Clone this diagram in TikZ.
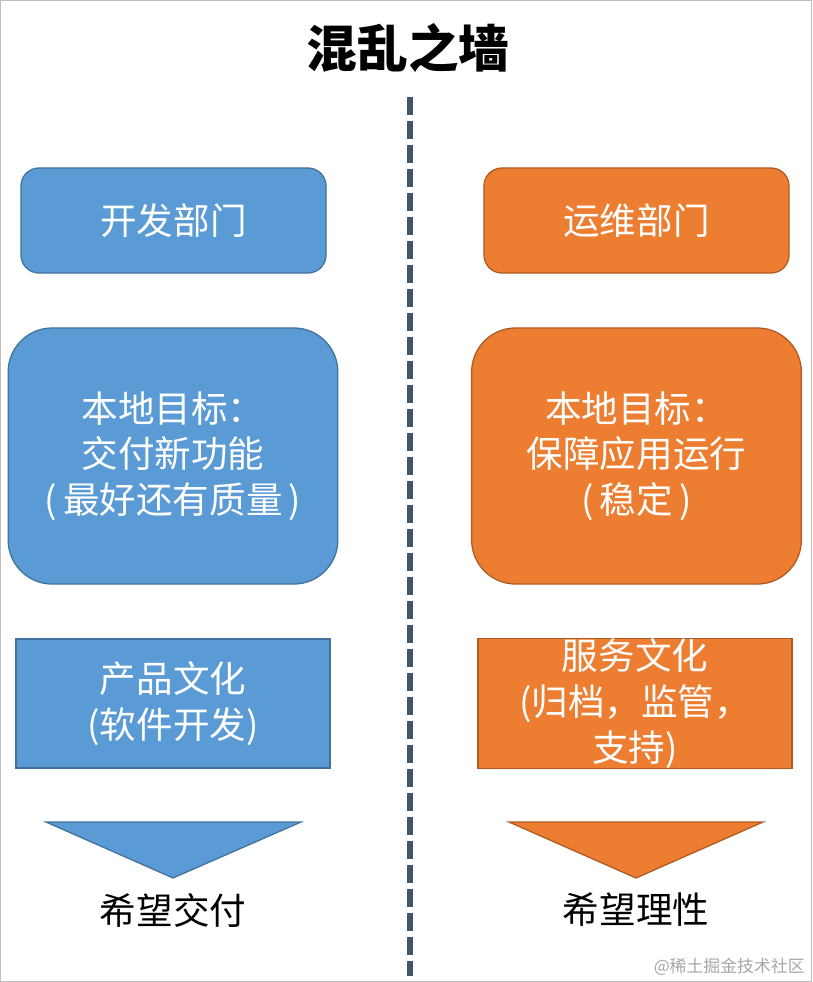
\documentclass[tikz,border=0pt]{standalone}
\usepackage{fontspec}
\setmainfont{Noto Sans CJK SC}
\usetikzlibrary{positioning}
\definecolor{devblue}{HTML}{5B9BD5}
\definecolor{devblueedge}{HTML}{41719C}
\definecolor{opsorange}{HTML}{ED7D31}
\definecolor{opsorangeedge}{HTML}{AE5A21}
\definecolor{wallgray}{HTML}{44546A}
\newcommand{\boxfont}{\fontsize{26pt}{32.5pt}\selectfont}
\tikzset{
	dept/.style={draw=#1edge, fill=#1, line width=0.9pt, text=white, font=\boxfont,
		rounded corners=0.45cm, minimum width=7.625cm, minimum height=2.625cm, inner sep=0pt},
	goal/.style={draw=#1edge, fill=#1, line width=0.9pt, text=white, font=\boxfont,
		rounded corners=1.1cm, minimum width=8.24cm, minimum height=6.4cm, inner sep=0pt, align=center},
	culture/.style={draw=#1edge, fill=#1, line width=0.9pt, text=white, font=\boxfont,
		minimum width=7.85cm, minimum height=3.225cm, inner sep=0pt, align=center},
	wish/.style={font=\boxfont, inner sep=0pt},
	funnel/.style={draw=#1edge, fill=#1, line width=0.9pt, line join=miter}
}
\begin{document}
\begin{tikzpicture}[x=0.025cm, y=-0.025cm]
	\useasboundingbox (0,0) rectangle (812,982);
	\draw[black!25, line width=0.8pt] (0.5,0.5) rectangle (811.5,981.5);
	
	\node[font=\fontsize{36pt}{40pt}\selectfont\bfseries] (title) at (408,48) {混乱之墙};
	\coordinate (walltop) at (410,97);
	\coordinate (wallbot) at (410,976);
	\draw[wallgray, line width=0.135cm, dash pattern=on 0.45cm off 0.15cm] (walltop) -- (wallbot);
	
	\node[dept=devblue] (dev) at (173.5,220.5) {开发部门};
	\node[goal=devblue] (devgoal) at (173,456) {本地目标：\\交付新功能\\(\,最好还有质量\,)};
	\node[culture=devblue] (devcult) at (173,703.5) {产品文化\\(软件开发)};
	\draw[funnel=devblue] (46,822) -- (301,822) -- (173,878) -- cycle;
	\node[wish] (devwish) at (173,910) {希望交付};
	
	\node[dept=opsorange] (ops) at (636.5,220.5) {运维部门};
	\node[goal=opsorange] (opsgoal) at (636.5,456) {本地目标：\\保障应用运行\\(\,稳定\,)};
	\node[culture=opsorange] (opscult) at (635,703.5) {服务文化\\(归档，监管，\\支持)};
	\draw[funnel=opsorange] (509,822) -- (763,822) -- (636,878) -- cycle;
	\node[wish] (opswish) at (636,910) {希望理性};
	
	\node[anchor=east, text=black!35, font=\fontsize{12pt}{14pt}\selectfont, inner sep=0pt] (mark) at (805,967) {@稀土掘金技术社区};
\end{tikzpicture}
\end{document}
